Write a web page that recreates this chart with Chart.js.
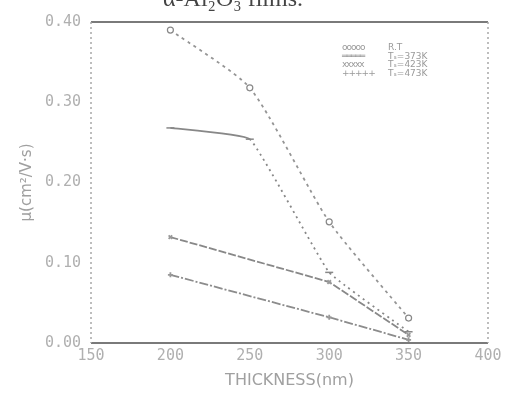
<!DOCTYPE html>
<html>
<head>
<meta charset="utf-8">
<script src="https://cdn.jsdelivr.net/npm/chart.js@4/dist/chart.umd.min.js"></script>
<style>
  body { margin: 0; background: #fff; }
  #wrap { position: relative; width: 509px; height: 394px; overflow: hidden; }
  #head { position: absolute; left: 163px; top: -15px; font: 24px "Liberation Serif", serif; color: #444; }
  #legend { position: absolute; left: 342px; top: 43px; font: 9px "DejaVu Sans", sans-serif; color: #999; line-height: 8.5px; }
  #legend span { display: inline-block; width: 46px; letter-spacing: -1px; }
</style>
</head>
<body>
<div id="wrap">
  <canvas id="chart" width="509" height="394"></canvas>
  <div id="head">α-Al₂O₃ films.</div>
  <div id="legend">
    <div><span>ooooo</span>R.T</div>
    <div><span>═════</span>Tₛ=373K</div>
    <div><span>xxxxx</span>Tₛ=423K</div>
    <div><span>+++++</span>Tₛ=473K</div>
  </div>
</div>
<script>
// Werte
const xTicks = [150, 200, 250, 300, 350, 400];
const yTicks = [0.00, 0.10, 0.20, 0.30, 0.40];

const rtThick   = [200, 250, 300, 350];
const rtValues  = [0.39, 0.318, 0.151, 0.031];

const t373Thick  = [200, 250, 300, 350];
const t373Values = [0.268, 0.254, 0.088, 0.014];

const t423Thick  = [200, 300, 350];
const t423Values = [0.132, 0.076, 0.010];

const t473Thick  = [200, 300, 350];
const t473Values = [0.085, 0.032, 0.004];

const lineGrey = '#959595';
const tickGrey = '#b0b0b0';

function toPoints(xs, ys) {
  return xs.map((x, i) => ({ x: x, y: ys[i] }));
}

// Rahmen: oben/unten durchgezogen, links/rechts gepunktet
const framePlugin = {
  id: 'frame',
  afterDraw(chart) {
    const { ctx, chartArea: a } = chart;
    ctx.save();
    ctx.strokeStyle = '#7a7a7a';
    ctx.lineWidth = 2;
    ctx.beginPath();
    ctx.moveTo(a.left, a.top); ctx.lineTo(a.right, a.top);
    ctx.moveTo(a.left, a.bottom); ctx.lineTo(a.right, a.bottom);
    ctx.stroke();
    ctx.strokeStyle = '#a8a8a8';
    ctx.lineWidth = 1.5;
    ctx.setLineDash([2, 3]);
    ctx.beginPath();
    ctx.moveTo(a.left, a.top); ctx.lineTo(a.left, a.bottom);
    ctx.moveTo(a.right, a.top); ctx.lineTo(a.right, a.bottom);
    ctx.stroke();
    ctx.restore();
  }
};

const ctx = document.getElementById('chart').getContext('2d');
new Chart(ctx, {
  type: 'line',
  data: {
    datasets: [
      {
        label: 'R.T',
        data: toPoints(rtThick, rtValues),
        borderColor: lineGrey,
        borderWidth: 1.8,
        borderDash: [3, 4],
        pointStyle: 'circle',
        pointRadius: 3,
        pointBorderWidth: 1.2,
        pointBackgroundColor: '#fff',
        pointBorderColor: '#888',
        tension: 0.2
      },
      {
        label: 'Ts=373K',
        data: toPoints(t373Thick, t373Values),
        borderColor: '#888',
        borderWidth: 1.8,
        segment: { borderDash: c => c.p0.parsed.x >= 250 ? [2, 4] : undefined },
        pointStyle: 'line',
        pointRadius: 4,
        pointBorderWidth: 1.5,
        pointBorderColor: '#888',
        tension: 0.1
      },
      {
        label: 'Ts=423K',
        data: toPoints(t423Thick, t423Values),
        borderColor: '#888',
        borderWidth: 1.8,
        borderDash: [8, 2],
        pointStyle: 'crossRot',
        pointRadius: 2.5,
        pointBorderColor: '#999',
        tension: 0
      },
      {
        label: 'Ts=473K',
        data: toPoints(t473Thick, t473Values),
        borderColor: '#8c8c8c',
        borderWidth: 1.8,
        borderDash: [9, 2, 2, 2],
        pointStyle: 'cross',
        pointRadius: 2.5,
        pointBorderColor: '#999',
        tension: 0
      }
    ]
  },
  options: {
    responsive: false,
    animation: false,
    layout: { padding: { top: 22, right: 21, left: 0, bottom: 0 } },
    scales: {
      x: {
        type: 'linear',
        min: 150,
        max: 400,
        afterFit: s => { s.height = 51; },
        afterBuildTicks: s => { s.ticks = xTicks.map(v => ({ value: v })); },
        grid: { display: false, drawTicks: false },
        border: { display: false },
        ticks: {
          color: tickGrey,
          padding: 4,
          font: { family: 'DejaVu Sans Mono', size: 15 },
          callback: v => String(v)
        },
        title: {
          display: true,
          text: 'THICKNESS(nm)',
          color: '#a0a0a0',
          font: { family: 'DejaVu Sans', size: 16 },
          padding: { top: 0, bottom: 4 }
        }
      },
      y: {
        min: 0,
        max: 0.4,
        afterFit: s => { s.width = 91; },
        afterBuildTicks: s => { s.ticks = yTicks.map(v => ({ value: v })); },
        grid: { display: false, drawTicks: false },
        border: { display: false },
        ticks: {
          color: tickGrey,
          padding: 10,
          font: { family: 'DejaVu Sans Mono', size: 15 },
          callback: v => Number(v).toFixed(2)
        },
        title: {
          display: true,
          text: 'μ(cm²/V·s)',
          color: '#a0a0a0',
          font: { family: 'DejaVu Sans', size: 15 },
          padding: { top: 18, bottom: 0 }
        }
      }
    },
    plugins: {
      legend: { display: false },
      tooltip: { enabled: false }
    }
  },
  plugins: [framePlugin]
});
</script>
</body>
</html>
